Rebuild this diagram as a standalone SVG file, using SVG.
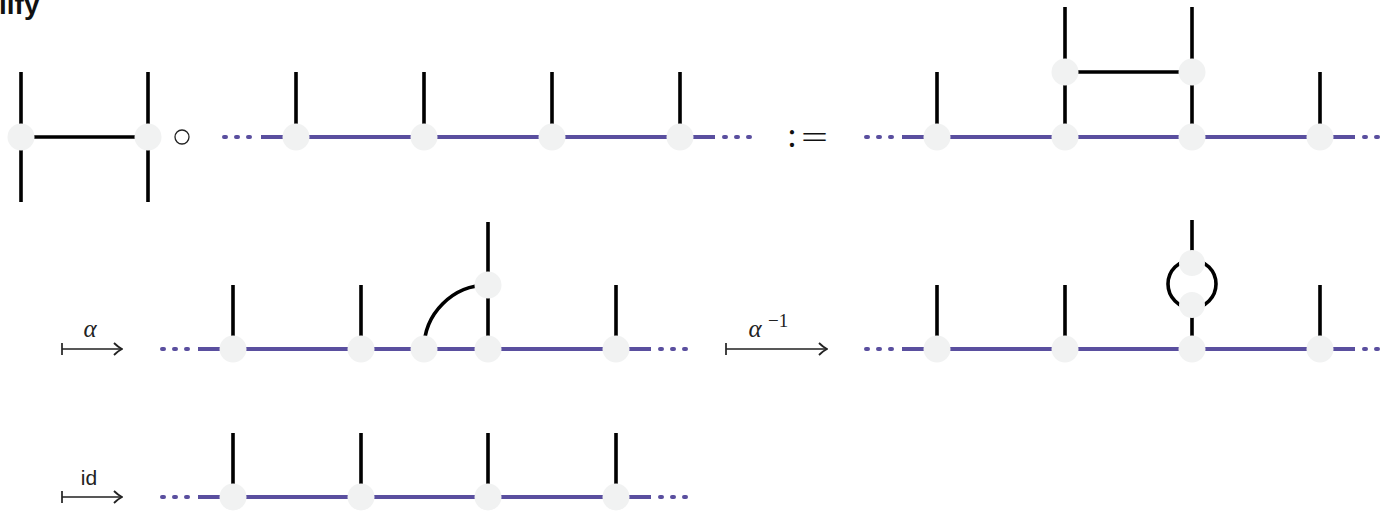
<svg xmlns="http://www.w3.org/2000/svg" width="1385" height="511" viewBox="0 0 1385 511">
<style>
.bk{stroke:#000;stroke-width:3.6;fill:none}
.pu{stroke:#5a4f9f;stroke-width:4;fill:none}
.dt{stroke:#5a4f9f;stroke-width:4;fill:none;stroke-linecap:round}
.nd{fill:#f1f2f2}
.ar{stroke:#222;stroke-width:1.7;fill:none}
.m{font-family:'Liberation Serif',serif;font-style:italic;fill:#222}
.s{font-family:'Liberation Sans',sans-serif;fill:#222}
</style>
<defs>
<marker id="ah" viewBox="0 0 10 14" refX="9" refY="7" markerWidth="10" markerHeight="14" markerUnits="userSpaceOnUse" orient="auto">
<path d="M1,1 Q5,5 9,7 Q5,9 1,13" stroke="#222" stroke-width="1.8" fill="none"/>
</marker>
</defs>
<rect width="1385" height="511" fill="#fff"/>
<text x="-1" y="14" font-family="'Liberation Sans',sans-serif" font-weight="bold" font-size="28" fill="#111">lify</text>

<g id="connectors">
<!-- row 1 left H -->
<path class="bk" d="M21,72V202M148,72V202M21,137H148"/>
<!-- row 1 chain 1 -->
<path class="pu" d="M261,137H715"/>
<path class="dt" d="M224,137h2M236,137h2M248,137h2M724,137h2M736,137h2M748,137h2"/>
<path class="bk" d="M296,72V137M424,72V137M552,72V137M680,72V137"/>
<!-- row 1 result -->
<path class="pu" d="M902,137H1355"/>
<path class="dt" d="M866,137h2M878,137h2M890,137h2M1364,137h2M1376,137h2M1388,137h2"/>
<path class="bk" d="M937,72V137M1320,72V137M1065,7V137M1192,7V137M1065,72H1192"/>
<!-- row 2 left -->
<path class="pu" d="M198,349H651"/>
<path class="dt" d="M162,349h2M174,349h2M186,349h2M660,349h2M672,349h2M684,349h2"/>
<path class="bk" d="M233,285V349M361,285V349M616,285V349M488,222V349M424,349A64,64 0 0 1 488,285"/>
<!-- row 2 right -->
<path class="pu" d="M902,349H1355"/>
<path class="dt" d="M866,349h2M878,349h2M890,349h2M1364,349h2M1376,349h2M1388,349h2"/>
<path class="bk" d="M937,285V349M1065,285V349M1320,285V349M1192,220V263M1192,305V349"/>
<circle class="bk" cx="1192" cy="284" r="24"/>
<!-- row 3 -->
<path class="pu" d="M198,497H651"/>
<path class="dt" d="M162,497h2M174,497h2M186,497h2M660,497h2M672,497h2M684,497h2"/>
<path class="bk" d="M233,433V497M361,433V497M488,433V497M616,433V497"/>
<!-- arrows -->
<path class="ar" d="M62,343V355M62,349H122" marker-end="url(#ah)"/>
<path class="ar" d="M726,343V355M726,349H827" marker-end="url(#ah)"/>
<path class="ar" d="M62,491V503M62,497H122" marker-end="url(#ah)"/>
</g>

<g id="nodes">
<g id="r1a"><circle class="nd" cx="21" cy="137" r="13.5"/><circle class="nd" cx="148" cy="137" r="13.5"/></g>
<g id="r1b"><circle class="nd" cx="296" cy="137" r="13.5"/><circle class="nd" cx="424" cy="137" r="13.5"/><circle class="nd" cx="552" cy="137" r="13.5"/><circle class="nd" cx="680" cy="137" r="13.5"/></g>
<g id="r1c"><circle class="nd" cx="937" cy="137" r="13.5"/><circle class="nd" cx="1065" cy="137" r="13.5"/><circle class="nd" cx="1192" cy="137" r="13.5"/><circle class="nd" cx="1320" cy="137" r="13.5"/><circle class="nd" cx="1065" cy="72" r="13.5"/><circle class="nd" cx="1192" cy="72" r="13.5"/></g>
<g id="r2a"><circle class="nd" cx="233" cy="349" r="13.5"/><circle class="nd" cx="361" cy="349" r="13.5"/><circle class="nd" cx="424" cy="349" r="13.5"/><circle class="nd" cx="488" cy="349" r="13.5"/><circle class="nd" cx="616" cy="349" r="13.5"/><circle class="nd" cx="488" cy="285" r="13.5"/></g>
<g id="r2b"><circle class="nd" cx="937" cy="349" r="13.5"/><circle class="nd" cx="1065" cy="349" r="13.5"/><circle class="nd" cx="1192" cy="349" r="13.5"/><circle class="nd" cx="1320" cy="349" r="13.5"/><circle class="nd" cx="1192" cy="263" r="13"/><circle class="nd" cx="1192" cy="305" r="13"/></g>
<g id="r3"><circle class="nd" cx="233" cy="497" r="13.5"/><circle class="nd" cx="361" cy="497" r="13.5"/><circle class="nd" cx="488" cy="497" r="13.5"/><circle class="nd" cx="616" cy="497" r="13.5"/></g>
</g>

<g id="labels">
<circle cx="182" cy="137" r="7" fill="none" stroke="#222" stroke-width="1.3"/>
<text x="787" y="147" font-family="'Liberation Serif',serif" font-size="36" fill="#111">:</text>
<text x="801" y="148" font-family="'Liberation Serif',serif" font-size="32" fill="#111" textLength="27" lengthAdjust="spacingAndGlyphs">=</text>
<text class="m" x="90" y="337" font-size="25" text-anchor="middle">α</text>
<text class="m" x="755" y="337" font-size="25" text-anchor="middle">α</text>
<text x="768" y="327" font-family="'Liberation Serif',serif" font-size="19" fill="#222">−1</text>
<text class="s" x="89" y="485" font-size="21" text-anchor="middle">id</text>
</g>
</svg>
